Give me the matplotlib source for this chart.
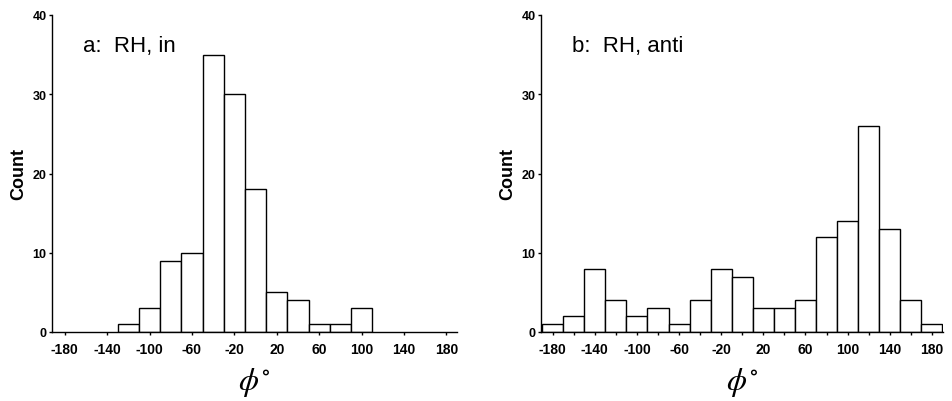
import matplotlib
matplotlib.use("Agg")
import matplotlib.pyplot as plt
import numpy as np

# Data
centers_a = [-120, -100, -80, -60, -40, -20, 0, 20, 40, 60, 80, 100]
counts_a = [1, 3, 9, 10, 35, 30, 18, 5, 4, 1, 1, 3]

centers_b = [-180, -160, -140, -120, -100, -80, -60, -40, -20, 0, 20, 40, 60, 80, 100, 120, 140, 160, 180]
counts_b = [1, 2, 8, 4, 2, 3, 1, 4, 8, 7, 3, 3, 4, 12, 14, 26, 13, 4, 1]

xticks_labeled = [-180, -140, -100, -60, -20, 20, 60, 100, 140, 180]
yticks = [0, 10, 20, 30, 40]
titles = ["a:  RH, in", "b:  RH, anti"]
bin_width = 20

plt.rcParams['font.family'] = ['Liberation Sans', 'DejaVu Sans']
plt.rcParams['mathtext.fontset'] = 'stix'

fig = plt.figure(figsize=(9.52, 4.02), dpi=100)
ax_a = fig.add_axes([52/952, 69/402, 405/952, 317/402])
ax_b = fig.add_axes([541/952, 69/402, 402/952, 317/402])

panels = [(ax_a, centers_a, counts_a, (-192, 190), False),
          (ax_b, centers_b, counts_b, (-191, 190.5), True)]

for i, (ax, c, n, xl, minor) in enumerate(panels):
    ax.bar(c, n, width=bin_width, facecolor='white', edgecolor='black', linewidth=1.0)
    ax.set_xlim(*xl)
    ax.set_ylim(0, 40)
    ax.spines['top'].set_visible(False)
    ax.spines['right'].set_visible(False)
    ax.spines['left'].set_linewidth(1.0)
    ax.spines['bottom'].set_linewidth(1.0)
    ax.set_xticks(xticks_labeled)
    ax.set_xticklabels([str(v) for v in xticks_labeled], fontweight='bold', fontsize=10)
    if minor:
        ax.set_xticks([v + 20 for v in xticks_labeled[:-1]], minor=True)
        ax.tick_params(axis='x', which='minor', length=2.5, width=1.0)
    ax.set_yticks(yticks)
    ax.set_yticklabels([str(v) for v in yticks], fontweight='bold', fontsize=9)
    ax.tick_params(axis='x', which='major', length=2.5, width=1.0, pad=5)
    ax.tick_params(axis='y', length=2.5, width=1.0, pad=1.5)
    ax.set_ylabel("Count", fontweight='bold', fontsize=13, labelpad=4)
    ax.set_xlabel(r"$\phi^{\circ}$", fontsize=23, labelpad=6)
    ax.text(0.077, 0.887, titles[i], transform=ax.transAxes, fontsize=16,
            ha='left', va='baseline')

fig.savefig("out.png", dpi=100)
